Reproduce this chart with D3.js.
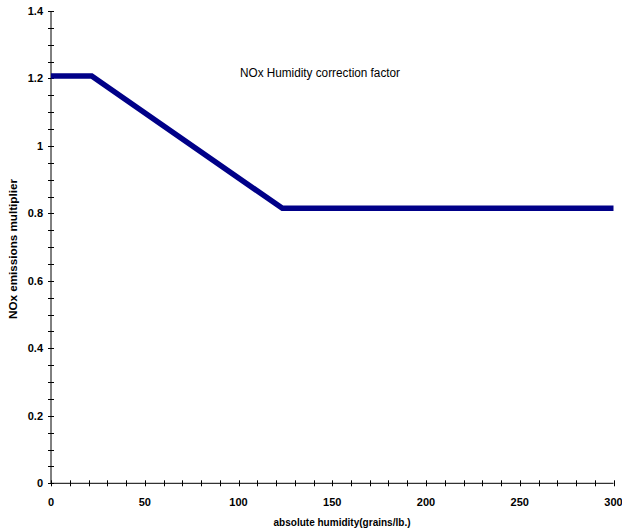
<!DOCTYPE html>
<html>
<head>
<meta charset="utf-8">
<script src="https://cdn.jsdelivr.net/npm/d3@7"></script>
<style>
  html, body { margin: 0; padding: 0; background: #fff; }
  svg { display: block; }
  text { font-family: "Liberation Sans", Arial, sans-serif; }
</style>
</head>
<body>
<svg id="chart" width="622" height="531"></svg>
<script>
// Data
const humidity   = [0, 21.7, 123.4, 300];          // grains/lb.
const multiplier = [1.207, 1.207, 0.815, 0.815];   // NOx emissions multiplier
const xTickValues = [0, 50, 100, 150, 200, 250, 300];
const yTickValues = [0, 0.2, 0.4, 0.6, 0.8, 1, 1.2, 1.4];
const titleText = "NOx Humidity correction factor";
const xLabel = "absolute humidity(grains/lb.)";
const yLabel = "NOx emissions multiplier";

const svg = d3.select("#chart");
const x = d3.scaleLinear().domain([0, 300]).range([51, 613.5]);
const y = d3.scaleLinear().domain([0, 1.4]).range([483.3, 11]);

// x axis
const xMinor = d3.range(0, 301, 10);
const gx = svg.append("g");
gx.append("line").attr("x1", x(0)).attr("x2", x(300)).attr("y1", y(0)).attr("y2", y(0))
  .attr("stroke", "#000").attr("stroke-width", 1);
gx.selectAll("line.t").data(xMinor).enter().append("line").attr("class", "t")
  .attr("x1", d => Math.round(x(d)) + 0.5).attr("x2", d => Math.round(x(d)) + 0.5)
  .attr("y1", y(0) - 3).attr("y2", y(0) + 3)
  .attr("stroke", "#000").attr("stroke-width", 1);
gx.selectAll("text").data(xTickValues).enter().append("text")
  .attr("x", d => x(d)).attr("y", 506)
  .attr("text-anchor", "middle")
  .attr("font-size", 11).attr("font-weight", "bold")
  .text(d => d3.format("d")(d));

// y axis
const yMinor = d3.range(0, 29).map(i => i * 0.05);
const gy = svg.append("g");
gy.append("line").attr("x1", x(0)).attr("x2", x(0)).attr("y1", y(0)).attr("y2", y(1.4))
  .attr("stroke", "#000").attr("stroke-width", 1);
gy.selectAll("line.t").data(yMinor).enter().append("line").attr("class", "t")
  .attr("x1", x(0) - 3).attr("x2", x(0) + 3)
  .attr("y1", d => Math.round(y(d)) + 0.5).attr("y2", d => Math.round(y(d)) + 0.5)
  .attr("stroke", "#000").attr("stroke-width", 1);
gy.selectAll("text").data(yTickValues).enter().append("text")
  .attr("x", 43).attr("y", d => y(d) + 4)
  .attr("text-anchor", "end")
  .attr("font-size", 11).attr("font-weight", "bold")
  .text(d => d3.format("~g")(d));

// series
const pts = humidity.map((h, i) => [h, multiplier[i]]);
svg.append("path").datum(pts)
  .attr("fill", "none").attr("stroke", "#000088").attr("stroke-width", 5.5)
  .attr("stroke-linejoin", "miter")
  .attr("d", d3.line().x(d => x(d[0])).y(d => y(d[1])));

// texts
svg.append("text").attr("x", 320).attr("y", 77).attr("text-anchor", "middle")
  .attr("font-size", 12).attr("textLength", 160).attr("lengthAdjust", "spacingAndGlyphs")
  .text(titleText);
svg.append("text").attr("x", 342).attr("y", 526).attr("text-anchor", "middle")
  .attr("font-size", 11).attr("font-weight", "bold")
  .attr("textLength", 137).attr("lengthAdjust", "spacingAndGlyphs").text(xLabel);
svg.append("text").attr("transform", "translate(17,249) rotate(-90)")
  .attr("text-anchor", "middle")
  .attr("font-size", 11).attr("font-weight", "bold")
  .attr("textLength", 140).attr("lengthAdjust", "spacingAndGlyphs").text(yLabel);
</script>
</body>
</html>
